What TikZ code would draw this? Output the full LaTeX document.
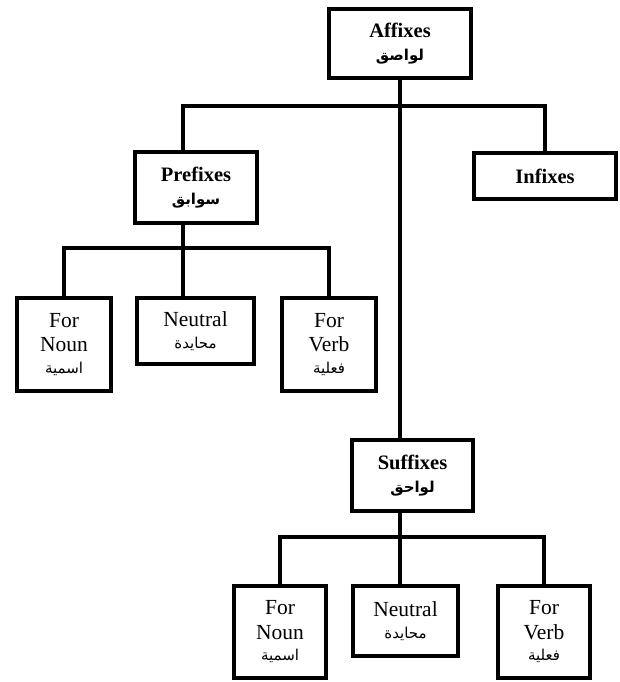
\documentclass[tikz,border=0pt]{standalone}
\usepackage{fontspec}
\setmainfont{Liberation Serif}
\newfontfamily\arabicfont[Script=Arabic]{DejaVu Sans}
\TeXXeTstate=1
\newcommand{\arb}[1]{{\fontsize{15}{18}\selectfont\arabicfont\beginR #1\endR}}
\begin{document}
\begin{tikzpicture}[x=1pt,y=-1pt,
  box/.style={draw, line width=4pt, inner sep=0pt, align=center,
    font=\fontsize{21.5}{24.5}\selectfont},
  hbox/.style={box, font=\fontsize{20.5}{23}\selectfont\bfseries},
  wire/.style={line width=4pt, line join=miter}]
\useasboundingbox (0,0) rectangle (619,682);
% level 0
\node[hbox, minimum width=142pt, minimum height=69pt] (aff) at (400,43.5)
  {Affixes\\[0pt]\arb{\bfseries لواصق}};
% level 1
\node[hbox, minimum width=122pt, minimum height=71pt] (pre) at (196,187.5)
  {Prefixes\\[0pt]\arb{\bfseries سوابق}};
\node[hbox, minimum width=142pt, minimum height=46pt] (inf) at (545,176)
  {Infixes};
\node[hbox, minimum width=121pt, minimum height=71pt] (suf) at (412.5,475.5)
  {Suffixes\\[0pt]\arb{\bfseries لواحق}};
% prefix children
\node[box, minimum width=94pt, minimum height=93pt] (pn) at (64,344.5)
  {For\\Noun\\[-3pt]\arb{اسمية}};
\node[box, minimum width=117pt, minimum height=66pt] (pne) at (195.5,331)
  {Neutral\\[-3pt]\arb{محايدة}};
\node[box, minimum width=94pt, minimum height=93pt] (pv) at (329,344.5)
  {For\\Verb\\[-3pt]\arb{فعلية}};
% suffix children
\node[box, minimum width=92pt, minimum height=92pt] (sn) at (280,632)
  {For\\Noun\\[-3pt]\arb{اسمية}};
\node[box, minimum width=105pt, minimum height=70pt] (sne) at (405.5,621)
  {Neutral\\[-3pt]\arb{محايدة}};
\node[box, minimum width=92pt, minimum height=92pt] (sv) at (544,632)
  {For\\Verb\\[-3pt]\arb{فعلية}};
% junctions
\coordinate (j1) at (400,106);
\coordinate (pd) at (183,106);
\coordinate (pj) at (183,248);
\coordinate (sj) at (400,537);
% connectors
\draw[wire] (aff.south) -- (j1);
\draw[wire] (pd |- pre.north) -- (pd) -- (inf.north |- j1) -- (inf.north);
\draw[wire] (j1) -- (j1 |- suf.north);
\draw[wire] (pj |- pre.south) -- (pj);
\draw[wire] (pn.north) -- (pn.north |- pj) -- (pv.north |- pj) -- (pv.north);
\draw[wire] (pj) -- (pj |- pne.north);
\draw[wire] (sj |- suf.south) -- (sj);
\draw[wire] (sn.north) -- (sn.north |- sj) -- (sv.north |- sj) -- (sv.north);
\draw[wire] (sj) -- (sj |- sne.north);
\end{tikzpicture}
\end{document}
